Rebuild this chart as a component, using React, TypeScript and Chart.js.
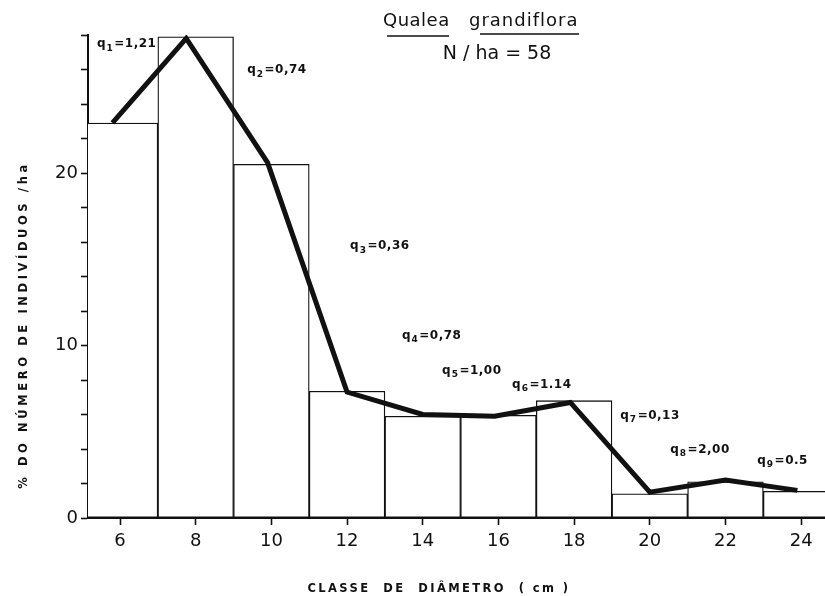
import React, { useEffect, useRef } from 'react';
import { Chart, registerables } from 'chart.js';

Chart.register(...registerables);

// Diameter classes (cm) and percentage of individuals per hectare
const classCenters = [6, 8, 10, 12, 14, 16, 18, 20, 22, 24];
const pctIndividuals = [22.9, 27.9, 20.5, 7.35, 5.9, 5.95, 6.8, 1.4, 2.1, 1.55];

// Hand-drawn frequency polygon over the histogram
const curveX = [5.8, 7.75, 9.9, 12, 14, 15.9, 17.9, 20, 22, 23.9];
const curveY = [22.9, 27.8, 20.6, 7.3, 6.0, 5.9, 6.7, 1.5, 2.2, 1.6];

// Axis ticks
const xTicks = [6, 8, 10, 12, 14, 16, 18, 20, 22, 24];
const yLabelled = [0, 10, 20];

// De Liocourt quotients between successive classes
const qIndex = ['1', '2', '3', '4', '5', '6', '7', '8', '9'];
const qValues = ['1,21', '0,74', '0,36', '0,78', '1,00', '1.14', '0,13', '2,00', '0.5'];
const qAtX = [5.39, 9.36, 12.08, 13.45, 14.51, 16.36, 19.22, 20.54, 22.84];
const qAtY = [27.4, 25.9, 15.7, 10.5, 8.46, 7.65, 5.86, 3.88, 3.25];

const SPECIES = 'Qualea grandiflora';
const DENSITY = 'N / ha = 58';
const X_TITLE = 'CLASSE  DE  DIÂMETRO  ( cm )';
const Y_TITLE = '% DO NÚMERO DE INDIVÍDUOS /ha';

const FONT = '"DejaVu Sans", "Liberation Sans", sans-serif';

const textPlugin = {
  id: 'figureText',
  afterDraw(chart: any) {
    const { ctx, scales } = chart;
    const xs = scales.x;
    const ys = scales.y;
    ctx.save();
    ctx.fillStyle = '#111';
    ctx.strokeStyle = '#111';

    // species heading, underlined word by word
    ctx.font = `18px ${FONT}`;
    ctx.textBaseline = 'alphabetic';
    ctx.textAlign = 'left';
    const [genus, epithet] = SPECIES.split(' ');
    (ctx as any).letterSpacing = '0.5px';
    ctx.fillText(genus, 383, 26);
    (ctx as any).letterSpacing = '1px';
    ctx.fillText(epithet, 469, 26);
    ctx.lineWidth = 1.6;
    ctx.beginPath();
    ctx.moveTo(387, 36);
    ctx.lineTo(449, 36);
    ctx.moveTo(480, 34);
    ctx.lineTo(579, 34);
    ctx.stroke();

    ctx.font = `19px ${FONT}`;
    ctx.textAlign = 'center';
    (ctx as any).letterSpacing = '0px';
    ctx.fillText(DENSITY, 497, 59);

    // axis titles
    ctx.font = `bold 11.5px ${FONT}`;
    (ctx as any).letterSpacing = '2.4px';
    ctx.textBaseline = 'middle';
    ctx.fillText(X_TITLE, 439, 589);

    ctx.save();
    ctx.translate(24, 325);
    ctx.rotate(-Math.PI / 2);
    (ctx as any).letterSpacing = '3.6px';
    ctx.fillText(Y_TITLE, 0, 0);
    ctx.restore();

    // quotient labels: q with subscript index, then the value
    (ctx as any).letterSpacing = '0.5px';
    ctx.textAlign = 'left';
    for (let i = 0; i < qValues.length; i++) {
      let px = xs.getPixelForValue(qAtX[i]);
      const py = ys.getPixelForValue(qAtY[i]);
      ctx.font = `bold 12px ${FONT}`;
      ctx.fillText('q', px, py - 1);
      px += ctx.measureText('q').width + 0.5;
      ctx.font = `bold 9px ${FONT}`;
      ctx.fillText(qIndex[i], px, py + 3);
      px += ctx.measureText(qIndex[i]).width + 1;
      ctx.font = `bold 12px ${FONT}`;
      ctx.fillText('=' + qValues[i], px, py - 1);
    }
    ctx.restore();
  },
};

export default function App() {
  const canvasRef = useRef<HTMLCanvasElement | null>(null);

  useEffect(() => {
    if (!canvasRef.current) return;
    const chart = new Chart(canvasRef.current, {
      type: 'bar',
      data: {
        datasets: [
          {
            type: 'line',
            data: curveX.map((x, i) => ({ x, y: curveY[i] })),
            borderColor: '#111',
            borderWidth: 5,
            pointRadius: 0,
            tension: 0,
            borderJoinStyle: 'miter',
            order: 0,
          } as any,
          {
            type: 'bar',
            data: classCenters.map((x, i) => ({ x, y: pctIndividuals[i] })),
            backgroundColor: '#ffffff',
            borderColor: '#111',
            borderWidth: 1.3,
            borderSkipped: false,
            barPercentage: 1,
            categoryPercentage: 1,
            order: 1,
          } as any,
        ],
      },
      options: {
        animation: false,
        responsive: true,
        maintainAspectRatio: false,
        layout: { padding: { top: 35, left: 0, right: 0, bottom: 0 } },
        plugins: {
          legend: { display: false },
          tooltip: { enabled: false },
          title: { display: false },
        },
        scales: {
          x: {
            type: 'linear',
            min: 5.154,
            max: 24.63,
            offset: false,
            afterFit: (scale: any) => {
              scale.height = 78;
            },
            afterBuildTicks: (scale: any) => {
              scale.ticks = xTicks.map((v) => ({ value: v }));
            },
            grid: {
              display: true,
              offset: false,
              drawOnChartArea: false,
              drawTicks: true,
              tickLength: 7,
              tickWidth: 1.6,
              tickColor: '#111',
            },
            border: { display: true, color: '#111', width: 2 },
            ticks: {
              color: '#111',
              font: { family: FONT, size: 18 },
              padding: 6,
              maxRotation: 0,
              autoSkip: false,
            },
          },
          y: {
            type: 'linear',
            min: 0,
            max: 28,
            afterFit: (scale: any) => {
              scale.width = 88;
            },
            grid: {
              display: true,
              offset: false,
              drawOnChartArea: false,
              drawTicks: true,
              tickLength: 7,
              tickWidth: 1.6,
              tickColor: '#111',
            },
            border: { display: true, color: '#111', width: 2 },
            ticks: {
              stepSize: 2,
              color: '#111',
              font: { family: FONT, size: 18 },
              padding: 3,
              autoSkip: false,
              callback: (v: any) => (yLabelled.includes(Number(v)) ? String(v) : ''),
            },
          },
        },
      },
      plugins: [textPlugin],
    });
    return () => chart.destroy();
  }, []);

  return (
    <div style={{ position: 'absolute', left: 0, top: 0, width: 825, height: 596, background: '#fff' }}>
      <canvas ref={canvasRef} />
    </div>
  );
}
